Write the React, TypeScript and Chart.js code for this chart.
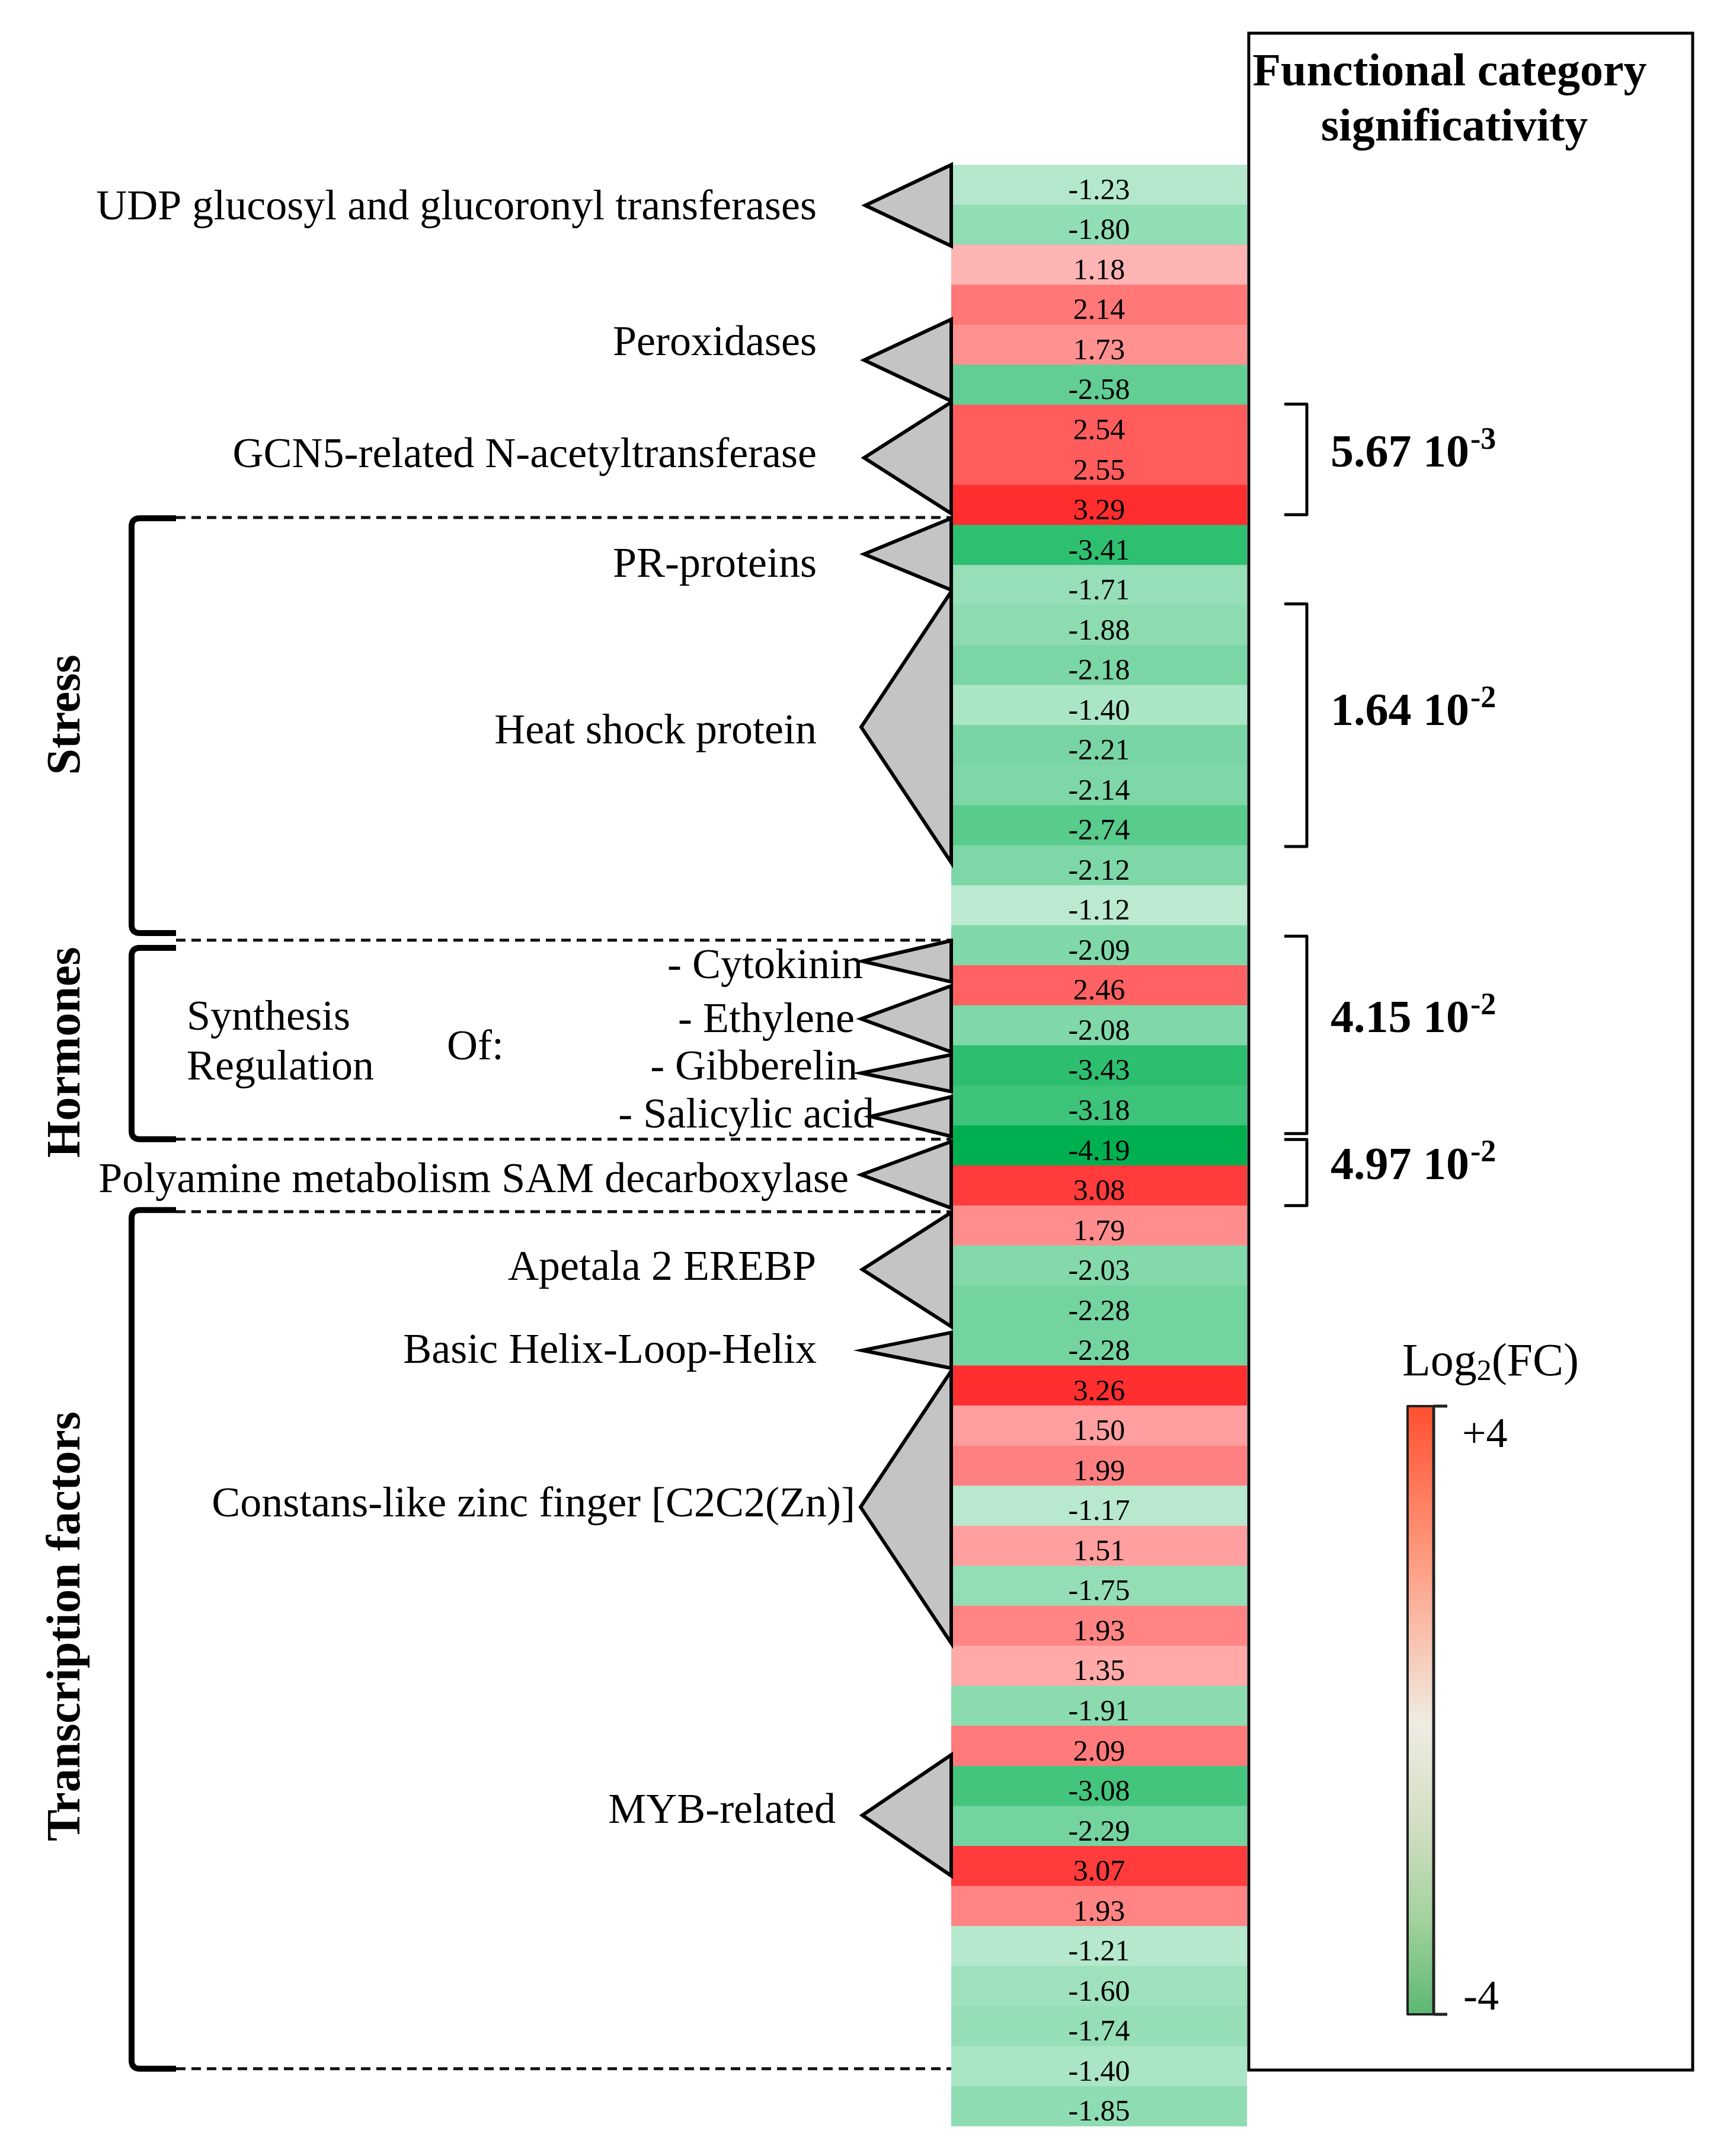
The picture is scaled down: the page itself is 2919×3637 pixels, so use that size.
import React, { useEffect, useRef } from "react";
import { Chart, registerables } from "chart.js";

Chart.register(...registerables);

const W = 2919;
const H = 3637;

// ---------- data ----------
const cellValues = [
  -1.23, -1.8, 1.18, 2.14, 1.73, -2.58, 2.54, 2.55, 3.29, -3.41,
  -1.71, -1.88, -2.18, -1.4, -2.21, -2.14, -2.74, -2.12, -1.12, -2.09,
  2.46, -2.08, -3.43, -3.18, -4.19, 3.08, 1.79, -2.03, -2.28, -2.28,
  3.26, 1.5, 1.99, -1.17, 1.51, -1.75, 1.93, 1.35, -1.91, 2.09,
  -3.08, -2.29, 3.07, 1.93, -1.21, -1.6, -1.74, -1.4, -1.85,
];

const categoryLabels = [
  "UDP glucosyl and glucoronyl transferases",
  "Peroxidases",
  "GCN5-related N-acetyltransferase",
  "PR-proteins",
  "Heat shock protein",
  "- Cytokinin",
  "- Ethylene",
  "- Gibberelin",
  "- Salicylic acid",
  "Polyamine metabolism SAM decarboxylase",
  "Apetala 2 EREBP",
  "Basic Helix-Loop-Helix",
  "Constans-like zinc finger [C2C2(Zn)]",
  "MYB-related",
];
// rows covered by each category bracket (row units, 0 = top of first cell)
const categoryFrom = [0, 3.86, 5.93, 8.83, 10.66, 19.38, 20.51, 22.23, 23.28, 24.4, 26.17, 29.17, 30.13, 39.72];
const categoryTo = [2.03, 5.9, 8.71, 10.62, 17.43, 20.41, 22.16, 23.15, 24.27, 26.06, 29.02, 30.06, 36.93, 42.74];

const sectionNames = ["Stress", "Hormones", "Transcription factors"];
const sectionFrom = [8.83, 19.56, 26.11];
const sectionTo = [19.19, 24.34, 47.56];
const separatorRows = [8.81, 19.37, 24.34, 26.15, 47.56];

const sigMantissa = ["5.67", "1.64", "4.15", "4.97"];
const sigExponent = ["-3", "-2", "-2", "-2"];
const sigFrom = [5.98, 10.97, 19.27, 24.35];
const sigTo = [8.74, 17.03, 24.2, 26.0];

const hormoneWords = ["Synthesis", "Regulation", "Of:"];
const colorbarTicks = ["+4", "-4"];

// ---------- layout (pixels / row positions for text) ----------
const labelBaselineRow = [1.36, 4.76, 7.55, 10.29, 14.45, 20.31, 21.66, 22.85, 24.05, 25.66, 27.85, 29.93, 33.76, 41.42];
const labelRightX = [1378, 1378, 1378, 1378, 1378, 1456, 1442, 1447, 1475, 1432, 1377, 1378, 1443, 1410];
const apexX = [1460, 1458, 1458, 1458, 1453, 1455, 1453, 1453, 1469, 1453, 1455, 1455, 1452, 1455];
const sectionCenterRow = [13.74, 22.17, 36.51];
const sigBaselineRow = [7.54, 13.99, 21.67, 25.33];

const SERIF = '"Liberation Serif", "Times New Roman", serif';

function cellColor(v: number): string {
  if (v >= 0) {
    const t = Math.min(1, v / 4);
    const g = Math.round(255 * (1 - t));
    return `rgb(255,${g},${g})`;
  }
  const t = Math.min(1, -v / 4.19);
  const r = Math.round(255 * (1 - t));
  const g = Math.round(255 - t * (255 - 176));
  const b = Math.round(255 - t * (255 - 80));
  return `rgb(${r},${g},${b})`;
}

const overlayPlugin = {
  id: "overlay",
  afterDatasetsDraw(chart: any) {
    const ctx: CanvasRenderingContext2D = chart.ctx;
    const ys = chart.scales.y;
    const xs = chart.scales.x;
    const p0 = ys.getPixelForValue(0);
    const p1 = ys.getPixelForValue(1);
    const h = p1 - p0;
    const rowY = (r: number) => p0 - h / 2 + r * h;
    const xL = xs.getPixelForValue(0);
    const xR = xs.getPixelForValue(1);

    ctx.save();

    // cell values
    ctx.fillStyle = "#000";
    ctx.font = `50px ${SERIF}`;
    ctx.textAlign = "center";
    ctx.textBaseline = "alphabetic";
    cellValues.forEach((v, i) => {
      ctx.fillText(v.toFixed(2), (xL + xR) / 2, rowY(i + 0.5) + 0.356 * h);
    });

    // dashed separators
    ctx.strokeStyle = "#111";
    ctx.lineWidth = 5;
    ctx.setLineDash([16, 10]);
    separatorRows.forEach((r) => {
      ctx.beginPath();
      ctx.moveTo(297, rowY(r));
      ctx.lineTo(xL, rowY(r));
      ctx.stroke();
    });
    ctx.setLineDash([]);

    // category triangles
    ctx.lineJoin = "miter";
    categoryLabels.forEach((_, i) => {
      const yt = rowY(categoryFrom[i]);
      const yb = rowY(categoryTo[i]);
      ctx.beginPath();
      ctx.moveTo(xL, yt);
      ctx.lineTo(apexX[i], (yt + yb) / 2);
      ctx.lineTo(xL, yb);
      ctx.closePath();
      ctx.fillStyle = "#c4c4c4";
      ctx.fill();
      ctx.strokeStyle = "#000";
      ctx.lineWidth = 6;
      ctx.stroke();
    });

    // category labels
    ctx.fillStyle = "#000";
    ctx.font = `72px ${SERIF}`;
    ctx.textAlign = "right";
    ctx.textBaseline = "alphabetic";
    categoryLabels.forEach((lab, i) => {
      ctx.fillText(lab, labelRightX[i], rowY(labelBaselineRow[i]));
    });
    ctx.textAlign = "left";
    ctx.fillText(hormoneWords[0], 315, rowY(21.6));
    ctx.fillText(hormoneWords[1], 315, rowY(22.85));
    ctx.fillText(hormoneWords[2], 754, rowY(22.35));

    // section brackets
    ctx.strokeStyle = "#000";
    ctx.lineWidth = 10;
    ctx.lineCap = "butt";
    sectionNames.forEach((_, i) => {
      const x = 222;
      const xe = 297;
      const yt = rowY(sectionFrom[i]);
      const yb = rowY(sectionTo[i]);
      const rr = 14;
      ctx.beginPath();
      ctx.moveTo(xe, yt);
      ctx.lineTo(x + rr, yt);
      ctx.quadraticCurveTo(x, yt, x, yt + rr);
      ctx.lineTo(x, yb - rr);
      ctx.quadraticCurveTo(x, yb, x + rr, yb);
      ctx.lineTo(xe, yb);
      ctx.stroke();
    });

    // section labels (rotated)
    ctx.font = `bold 80px ${SERIF}`;
    ctx.textAlign = "center";
    ctx.textBaseline = "middle";
    sectionNames.forEach((name, i) => {
      ctx.save();
      ctx.translate(113, rowY(sectionCenterRow[i]));
      ctx.rotate(-Math.PI / 2);
      ctx.fillText(name, 0, 0);
      ctx.restore();
    });

    // significance box
    ctx.lineWidth = 5;
    ctx.strokeStyle = "#000";
    ctx.strokeRect(2107, 56, 2856 - 2107, 3492 - 56);

    // title
    ctx.font = `bold 78px ${SERIF}`;
    ctx.textAlign = "center";
    ctx.textBaseline = "alphabetic";
    ctx.fillText("Functional category", 2446, 144);
    ctx.fillText("significativity", 2454, 237);

    // significance brackets + values
    ctx.lineWidth = 5;
    ctx.lineJoin = "round";
    sigMantissa.forEach((m, i) => {
      const yt = rowY(sigFrom[i]);
      const yb = rowY(sigTo[i]);
      ctx.beginPath();
      ctx.moveTo(2167, yt);
      ctx.lineTo(2205, yt);
      ctx.lineTo(2205, yb);
      ctx.lineTo(2167, yb);
      ctx.stroke();
      const base = rowY(sigBaselineRow[i]);
      ctx.textAlign = "left";
      ctx.font = `bold 78px ${SERIF}`;
      const txt = `${m} 10`;
      ctx.fillText(txt, 2245, base);
      const w = ctx.measureText(txt).width;
      ctx.font = `bold 52px ${SERIF}`;
      ctx.fillText(sigExponent[i], 2245 + w + 2, base - 30);
    });

    // colour bar
    const cbx = 2375, cbw = 44, cbt = 2372, cbb = 3398;
    const grad = ctx.createLinearGradient(0, cbt, 0, cbb);
    grad.addColorStop(0, "#ff5030");
    grad.addColorStop(0.22, "#ff9275");
    grad.addColorStop(0.38, "#f8c2ae");
    grad.addColorStop(0.52, "#efece2");
    grad.addColorStop(0.68, "#d4dfc4");
    grad.addColorStop(0.84, "#a5d2a0");
    grad.addColorStop(1, "#5cb872");
    ctx.fillStyle = grad;
    ctx.fillRect(cbx, cbt, cbw, cbb - cbt);
    ctx.strokeStyle = "#222";
    ctx.lineWidth = 4;
    ctx.strokeRect(cbx, cbt, cbw, cbb - cbt);
    ctx.lineWidth = 5;
    ctx.beginPath();
    ctx.moveTo(cbx + cbw, cbt);
    ctx.lineTo(2442, cbt);
    ctx.moveTo(cbx + cbw, cbb);
    ctx.lineTo(2442, cbb);
    ctx.moveTo(cbx + cbw, cbt);
    ctx.lineTo(cbx + cbw, cbb);
    ctx.stroke();

    ctx.fillStyle = "#000";
    ctx.font = `72px ${SERIF}`;
    ctx.textAlign = "left";
    ctx.fillText(colorbarTicks[0], 2467, 2441);
    ctx.fillText(colorbarTicks[1], 2469, 3390);

    // Log2(FC)
    const partA = "Log";
    const partB = "2";
    const partC = "(FC)";
    ctx.font = `78px ${SERIF}`;
    const wa = ctx.measureText(partA).width;
    const wc = ctx.measureText(partC).width;
    ctx.font = `50px ${SERIF}`;
    const wb = ctx.measureText(partB).width;
    const total = wa + wb + wc;
    let lx = 2515 - total / 2;
    const lb = 2320;
    ctx.font = `78px ${SERIF}`;
    ctx.fillText(partA, lx, lb);
    lx += wa;
    ctx.font = `50px ${SERIF}`;
    ctx.fillText(partB, lx, lb + 8);
    lx += wb;
    ctx.font = `78px ${SERIF}`;
    ctx.fillText(partC, lx, lb);

    ctx.restore();
  },
};

export default function App() {
  const canvasRef = useRef<HTMLCanvasElement | null>(null);

  useEffect(() => {
    const canvas = canvasRef.current;
    if (!canvas) return;
    const chart = new Chart(canvas, {
      type: "bar",
      data: {
        labels: cellValues.map((_, i) => String(i)),
        datasets: [
          {
            data: cellValues.map(() => [0, 1]) as any,
            backgroundColor: cellValues.map(cellColor),
            borderWidth: 0,
            barPercentage: 1,
            categoryPercentage: 1,
          },
        ],
      },
      options: {
        indexAxis: "y",
        responsive: false,
        animation: false,
        devicePixelRatio: 1,
        layout: { padding: { left: 1605, right: W - 2104, top: 278, bottom: H - 3587 } },
        scales: {
          x: { type: "linear", min: 0, max: 1, display: false },
          y: { type: "category", display: false, offset: true },
        },
        plugins: {
          legend: { display: false },
          tooltip: { enabled: false },
        },
      },
      plugins: [overlayPlugin],
    });
    return () => chart.destroy();
  }, []);

  return (
    <div style={{ position: "absolute", left: 0, top: 0, width: W, height: H, background: "#fff" }}>
      <canvas ref={canvasRef} width={W} height={H} style={{ width: W, height: H, display: "block" }} />
    </div>
  );
}
